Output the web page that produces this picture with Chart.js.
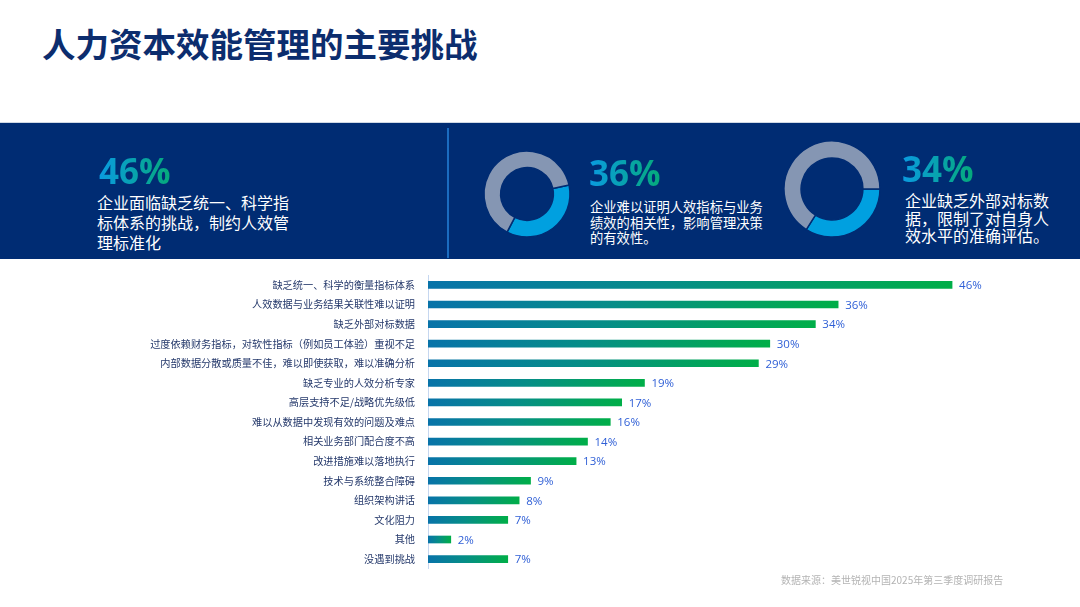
<!DOCTYPE html>
<html>
<head>
<meta charset="utf-8">
<script src="https://cdn.jsdelivr.net/npm/chart.js@4.4.1/dist/chart.umd.min.js"></script>
<style>
  html, body { margin: 0; padding: 0; background: #fff; }
  body { width: 1080px; height: 607px; position: relative; overflow: hidden;
         font-family: "Noto Sans CJK SC", "Noto Sans", sans-serif; }
  .title { position: absolute; left: 42px; top: 20px; font-size: 33.5px; font-weight: 700;
           color: #0c2d6e; line-height: 46px; }
  .band { position: absolute; left: 0; top: 122px; width: 1080px; height: 136px; background: #002c73;
          border-top: 1px solid #cfd8e4; }
  .divider { position: absolute; left: 447px; top: 128px; width: 2px; height: 130px; background: #1b6cc0; }
  .pct { position: absolute; font-family: "Open Sans", sans-serif; font-weight: 700; font-size: 35px;
         line-height: 40px; background: linear-gradient(90deg, #0a9be0, #05aa7a);
         -webkit-background-clip: text; background-clip: text; color: transparent; }
  .desc { position: absolute; color: #fff; }
  .foot { position: absolute; left: 781px; top: 572px; font-size: 10px; color: #b4b4b4; }
  canvas { position: absolute; }
</style>
</head>
<body>
<div class="title">人力资本效能管理的主要挑战</div>
<div class="band"></div>
<div class="divider"></div>

<div class="pct" style="left:99px; top:151px;">46%</div>
<div class="desc" style="left:97px; top:192px; font-size:16px; line-height:20px; width:200px;">企业面临缺乏统一、科学指<br>标体系的挑战，制约人效管<br>理标准化</div>

<canvas id="donut1" width="96" height="96" style="left:479px; top:146px; width:96px; height:96px;"></canvas>
<div class="pct" style="left:589px; top:153px;">36%</div>
<div class="desc" style="left:590px; top:199px; font-size:13.3px; line-height:15.5px; width:190px;">企业难以证明人效指标与业务<br>绩效的相关性，影响管理决策<br>的有效性。</div>

<canvas id="donut2" width="104" height="104" style="left:780px; top:137px; width:104px; height:104px;"></canvas>
<div class="pct" style="left:902px; top:149px;">34%</div>
<div class="desc" style="left:905px; top:192px; font-size:16px; line-height:17.5px; width:160px;">企业缺乏外部对标数<br>据，限制了对自身人<br>效水平的准确评估。</div>

<canvas id="bars" width="1080" height="332" style="left:0; top:256px; width:1080px; height:332px;"></canvas>
<div class="foot">数据来源：美世锐视中国2025年第三季度调研报告</div>

<script>
const categories = [
  "缺乏统一、科学的衡量指标体系",
  "人效数据与业务结果关联性难以证明",
  "缺乏外部对标数据",
  "过度依赖财务指标，对软性指标（例如员工体验）重视不足",
  "内部数据分散或质量不佳，难以即使获取，难以准确分析",
  "缺乏专业的人效分析专家",
  "高层支持不足/战略优先级低",
  "难以从数据中发现有效的问题及难点",
  "相关业务部门配合度不高",
  "改进措施难以落地执行",
  "技术与系统整合障碍",
  "组织架构讲话",
  "文化阻力",
  "其他",
  "没遇到挑战"
];
const values = [46, 36, 34, 30, 29, 19, 17, 16, 14, 13, 9, 8, 7, 2, 7];
const donutValues = [36, 34];

// bar gradient: blue at the bar start, green at the bar end
function barFill(context) {
  const chart = context.chart;
  const x = chart.scales && chart.scales.x;
  if (!x || context.type !== "data") return "#0a8a7a";
  const x0 = x.getPixelForValue(0);
  const x1 = x.getPixelForValue(context.raw);
  if (!isFinite(x0) || !isFinite(x1) || x1 <= x0) return "#0a8a7a";
  const g = chart.ctx.createLinearGradient(x0, 0, x1, 0);
  g.addColorStop(0, "#0873a9");
  g.addColorStop(0.45, "#068d88");
  g.addColorStop(1, "#00ae48");
  return g;
}

const valueLabels = {
  id: "valueLabels",
  afterDatasetsDraw(chart) {
    const ctx = chart.ctx;
    const meta = chart.getDatasetMeta(0);
    ctx.save();
    ctx.font = "11.5px 'Open Sans', sans-serif";
    ctx.fillStyle = "#2f5fd6";
    ctx.textAlign = "left";
    ctx.textBaseline = "middle";
    meta.data.forEach((bar, i) => {
      ctx.fillText(values[i] + "%", bar.x + 7, bar.y + 1);
    });
    ctx.restore();
  }
};

new Chart(document.getElementById("bars").getContext("2d"), {
  type: "bar",
  data: {
    labels: categories,
    datasets: [{
      data: values,
      backgroundColor: barFill,
      barThickness: 7,
      borderWidth: 0
    }]
  },
  plugins: [valueLabels],
  options: {
    indexAxis: "y",
    responsive: false,
    animation: false,
    layout: { padding: { top: 9, bottom: 5, right: 14, left: 0 } },
    plugins: { legend: { display: false }, tooltip: { enabled: false } },
    scales: {
      x: { display: false, min: 0, max: 56 },
      y: {
        afterFit(scale) { scale.width = 428; },
        grid: { display: false, drawTicks: false },
        border: { display: true, color: "#c6d7f0", width: 1 },
        ticks: {
          padding: 13,
          color: "#25396b",
          font: { family: "'Noto Sans CJK SC', sans-serif", size: 10.2 }
        }
      }
    }
  }
});

function drawDonut(id, value, radius, cutout, rotation) {
  new Chart(document.getElementById(id).getContext("2d"), {
    type: "doughnut",
    data: {
      datasets: [{
        data: [value, 100 - value],
        backgroundColor: ["#00a0e0", "#8596b3"],
        borderColor: "#002c73",
        borderWidth: 1.5
      }]
    },
    options: {
      responsive: false,
      animation: false,
      radius: radius,
      cutout: cutout,
      rotation: rotation,
      plugins: { legend: { display: false }, tooltip: { enabled: false } }
    }
  });
}
drawDonut("donut1", donutValues[0], 43, 29, 78);
drawDonut("donut2", donutValues[1], 48, 33, 90);
</script>
</body>
</html>
